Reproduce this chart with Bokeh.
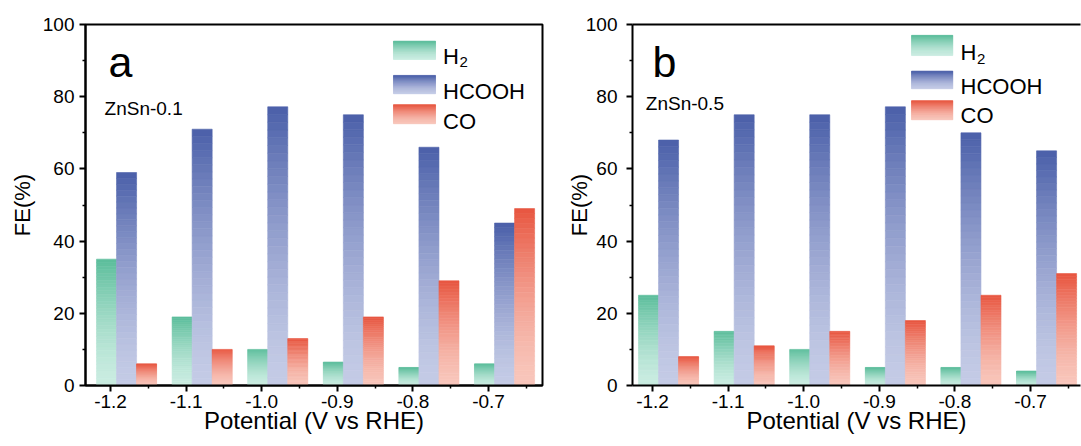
import numpy as np
from bokeh.plotting import figure
from bokeh.layouts import row
from bokeh.models import Range1d, FixedTicker, PrintfTickFormatter, Label, LinearAxis, ColumnDataSource
from bokeh.embed import file_html
from bokeh.resources import INLINE

# ---------------- data ----------------
potentials = [-1.2, -1.1, -1.0, -0.9, -0.8, -0.7]
series = ["H2", "HCOOH", "CO"]

a_h2 = [35, 19, 10, 6.5, 5, 6]
a_hcooh = [59, 71, 77.2, 75, 66, 45]
a_co = [6, 10, 13, 19, 29, 49]

b_h2 = [25, 15, 10, 5, 5, 4]
b_hcooh = [68, 75, 75, 77.2, 70, 65]
b_co = [8, 11, 15, 18, 25, 31]

y_ticks = [0, 20, 40, 60, 80, 100]
y_minor = [10, 30, 50, 70, 90]

# ---------------- style ----------------
FONT = "Liberation Sans"
TOP = {"H2": "#5bbd9b", "HCOOH": "#4a5fa9", "CO": "#e8553f"}
BOT = {"H2": "#caece1", "HCOOH": "#c4cbe6", "CO": "#f8c6bb"}
OFFSET = {"H2": -0.0053, "HCOOH": 0.0212, "CO": 0.0477}
BAR_W = 0.0265
NSLICE = 36


def hex2rgb(h):
    h = h.lstrip("#")
    return np.array([int(h[i:i + 2], 16) for i in (0, 2, 4)], dtype=float)


def mix(c_bot, c_top, t):
    a, b = hex2rgb(c_bot), hex2rgb(c_top)
    c = a + (b - a) * t
    return "#%02x%02x%02x" % tuple(int(round(v)) for v in c)


def gradient_rects(lefts, rights, bottoms, tops, name):
    L, R, B, T, C = [], [], [], [], []
    for l, r, b0, t0 in zip(lefts, rights, bottoms, tops):
        h = t0 - b0
        for k in range(NSLICE):
            f0, f1 = k / NSLICE, (k + 1) / NSLICE
            t = ((f0 + f1) / 2) ** 1.5
            L.append(l)
            R.append(r)
            B.append(b0 + h * f0)
            T.append(b0 + h * f1)
            C.append(mix(BOT[name], TOP[name], t))
    return dict(left=L, right=R, bottom=B, top=T, color=C)


def draw_bars(p, values, name):
    lefts = [x + OFFSET[name] - BAR_W / 2 for x in potentials]
    rights = [x + OFFSET[name] + BAR_W / 2 for x in potentials]
    d = gradient_rects(lefts, rights, [0] * len(values), values, name)
    p.quad(source=ColumnDataSource(d), left="left", right="right", bottom="bottom", top="top",
           fill_color="color", line_color="color", line_width=0.6)


def draw_legend(p, x0, x1, boxes, text_x, sub_x, baselines, sub_base):
    for name, (yb, yt) in zip(series, boxes):
        d = gradient_rects([x0], [x1], [yb], [yt], name)
        p.quad(source=ColumnDataSource(d), left="left", right="right", bottom="bottom", top="top",
               fill_color="color", line_color="color", line_width=0.6)
    labels = ["H", "HCOOH", "CO"]
    for txt, yb in zip(labels, baselines):
        p.add_layout(Label(x=text_x, y=yb, text=txt, text_font=FONT, text_font_size="22px",
                           text_color="black", text_baseline="alphabetic", text_align="left"))
    p.add_layout(Label(x=sub_x, y=sub_base, text="2", text_font=FONT, text_font_size="15px",
                       text_color="black", text_baseline="alphabetic", text_align="left"))


def style_axis(ax):
    ax.axis_line_width = 2
    ax.axis_line_color = "black"
    ax.major_tick_line_width = 2
    ax.minor_tick_line_width = 1.5
    ax.major_tick_out = 6
    ax.major_tick_in = 0
    ax.minor_tick_out = 3
    ax.minor_tick_in = 0
    ax.major_label_text_font = FONT
    ax.major_label_text_font_size = "19px"
    ax.major_label_text_color = "black"
    ax.axis_label_text_font = FONT
    ax.axis_label_text_font_style = "normal"
    ax.axis_label_text_color = "black"


def make_panel(width, mleft, mright, xr, h2, hcooh, co, letter, letter_x, sample, sample_x, sample_y,
               legend_args, tick_standoff, label_standoff, right_border):
    p = figure(width=width, height=446, x_range=Range1d(*xr), y_range=Range1d(0, 100),
               output_backend="svg", toolbar_location=None,
               min_border_left=mleft, min_border_right=mright, min_border_top=24, min_border_bottom=61)
    p.xgrid.visible = False
    p.ygrid.visible = False
    p.background_fill_color = "white"
    p.border_fill_color = "white"

    xax = p.below[0]
    yax = p.left[0]
    style_axis(xax)
    style_axis(yax)

    xax.ticker = FixedTicker(ticks=potentials, minor_ticks=[x + 0.05 for x in potentials])
    xax.formatter = PrintfTickFormatter(format="%.1f")
    xax.axis_label = "Potential (V vs RHE)"
    xax.axis_label_text_font_size = "24px"
    xax.major_label_standoff = 3
    xax.axis_label_standoff = -4

    yax.ticker = FixedTicker(ticks=y_ticks, minor_ticks=y_minor)
    yax.axis_label = "FE(%)"
    yax.axis_label_text_font_size = "22px"
    yax.major_label_standoff = tick_standoff
    yax.axis_label_standoff = label_standoff

    if right_border:
        p.outline_line_color = "black"
        p.outline_line_width = 2
    else:
        p.outline_line_color = None
        top_ax = LinearAxis(ticker=FixedTicker(ticks=[]), axis_line_width=2, axis_line_color="black",
                            major_tick_out=0, minor_tick_out=0, major_tick_in=0, minor_tick_in=0,
                            major_label_text_font_size="0px", major_label_standoff=0)
        p.add_layout(top_ax, "above")

    draw_bars(p, h2, "H2")
    draw_bars(p, hcooh, "HCOOH")
    draw_bars(p, co, "CO")

    p.add_layout(Label(x=letter_x, y=89.6, text=letter, text_font=FONT, text_font_size="43px",
                       text_color="black", text_baseline="alphabetic", text_align="left"))
    p.add_layout(Label(x=sample_x, y=sample_y, text=sample, text_font=FONT, text_font_size="19px",
                       text_color="black", text_baseline="alphabetic", text_align="left"))
    draw_legend(p, *legend_args)
    return p


pa = make_panel(560, 85, 18, (-1.2331, -0.6286), a_h2, a_hcooh, a_co,
                "a", -1.2026, "ZnSn-0.1", -1.2079, 76.6,
                (-0.8257, -0.7701, [(90.3, 95.4), (80.8, 85.9), (72.5, 77.8)],
                 -0.7601, -0.7384, [91.1, 81.4, 73.1], 89.5),
                5, 5, True)

pb = make_panel(521, 72, 1, (-1.2265, -0.6339), b_h2, b_hcooh, b_co,
                "b", -1.2000, "ZnSn-0.5", -1.2089, 78.1,
                (-0.8574, -0.8028, [(91.4, 97.0), (82.2, 87.1), (73.6, 78.9)],
                 -0.7926, -0.7709, [92.3, 82.8, 74.8], 90.5),
                9, -9, False)

layout = row(pa, pb)
open("out.html", "w").write(file_html(layout, INLINE))
